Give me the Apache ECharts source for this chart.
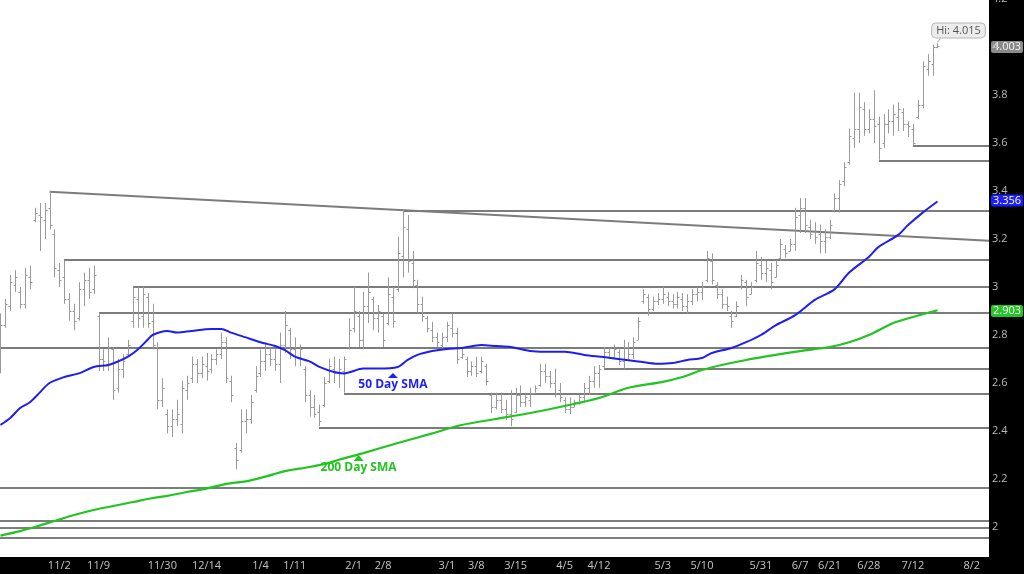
<!DOCTYPE html>
<html><head><meta charset="utf-8">
<script src="https://cdn.jsdelivr.net/npm/echarts@6/dist/echarts.min.js"></script>
<style>html,body{margin:0;padding:0;background:#fff}#c{width:1024px;height:574px}</style>
</head><body><div id="c"></div>
<script>
// ---- data ----
const opens = [
2.66,2.84,2.92,3.01,2.98,2.93,3.04,3.28,3.30,3.28,
3.33,3.22,3.07,3.04,2.95,2.90,2.87,2.99,3.03,2.99,
2.88,2.70,2.68,2.74,2.58,2.66,2.72,2.86,2.95,2.88,
2.96,2.86,2.75,2.53,2.47,2.42,2.45,2.43,2.57,2.62,
2.68,2.64,2.67,2.66,2.70,2.72,2.77,2.61,2.33,2.32,
2.44,2.45,2.57,2.64,2.69,2.72,2.70,2.68,2.76,2.82,
2.74,2.71,2.66,2.55,2.50,2.48,2.51,2.61,2.66,2.64,
2.65,2.75,2.83,2.88,2.78,2.92,2.95,2.87,2.88,2.85,
2.96,2.99,3.13,3.24,3.10,3.01,2.93,2.87,2.82,2.79,
2.76,2.79,2.83,2.81,2.71,2.70,2.65,2.67,2.65,2.67,
2.55,2.50,2.53,2.49,2.47,2.48,2.55,2.52,2.53,2.56,
2.59,2.65,2.63,2.60,2.57,2.53,2.49,2.50,2.52,2.54,
2.58,2.61,2.64,2.67,2.73,2.71,2.73,2.69,2.75,2.72,
2.78,2.94,2.96,2.91,2.94,2.95,2.96,2.94,2.93,2.95,
2.92,2.94,2.97,2.98,3.03,3.11,3.01,2.97,2.93,2.88,
2.88,3.00,3.02,2.97,3.03,3.09,3.06,3.07,3.04,3.12,
3.16,3.15,3.18,3.30,3.33,3.25,3.23,3.22,3.19,3.21,
3.32,3.37,3.44,3.52,3.62,3.66,3.74,3.66,3.70,3.68,
3.60,3.68,3.69,3.71,3.73,3.68,3.66,3.71,3.76,3.91,
3.93,4.00];
const highs = [
2.89,2.95,3.05,3.07,3.00,3.08,3.09,3.33,3.35,3.35,
3.40,3.24,3.10,3.11,2.975,2.93,3.02,3.06,3.08,3.09,
2.89,2.74,2.79,2.75,2.70,2.72,2.78,3.00,3.00,3.00,
2.975,2.93,2.77,2.62,2.49,2.49,2.53,2.61,2.63,2.71,
2.70,2.71,2.725,2.72,2.74,2.81,2.79,2.63,2.35,2.49,
2.49,2.55,2.67,2.74,2.77,2.75,2.74,2.81,2.90,2.83,
2.79,2.76,2.67,2.57,2.55,2.51,2.625,2.70,2.71,2.70,
2.71,2.87,3.00,2.90,2.98,3.06,2.96,2.925,2.89,3.04,
3.00,3.21,3.32,3.30,3.15,3.03,2.96,2.88,2.855,2.81,
2.81,2.855,2.89,2.83,2.75,2.71,2.69,2.71,2.71,2.68,
2.56,2.56,2.56,2.53,2.57,2.58,2.59,2.56,2.58,2.59,
2.68,2.68,2.65,2.66,2.60,2.54,2.54,2.53,2.55,2.60,
2.63,2.67,2.675,2.75,2.75,2.76,2.74,2.78,2.77,2.79,
2.875,2.99,2.97,2.96,2.975,3.00,2.98,2.97,2.98,2.975,
2.97,2.99,3.00,3.02,3.15,3.14,3.02,2.99,2.96,2.90,
2.94,3.05,3.03,3.02,3.15,3.125,3.11,3.10,3.11,3.20,
3.175,3.20,3.33,3.37,3.37,3.28,3.27,3.26,3.24,3.28,
3.39,3.445,3.52,3.66,3.81,3.81,3.77,3.74,3.82,3.71,
3.72,3.74,3.76,3.77,3.745,3.69,3.68,3.78,3.94,3.97,
4.01,4.015];
const lows = [
2.64,2.83,2.90,2.98,2.91,2.91,2.99,3.27,3.15,3.20,
3.24,3.04,3.00,2.93,2.86,2.82,2.86,2.92,2.95,2.97,
2.65,2.65,2.65,2.53,2.56,2.62,2.71,2.83,2.83,2.83,
2.83,2.74,2.49,2.50,2.39,2.375,2.42,2.39,2.53,2.60,
2.60,2.62,2.61,2.64,2.675,2.70,2.60,2.52,2.24,2.31,
2.39,2.43,2.56,2.625,2.65,2.67,2.65,2.60,2.725,2.70,
2.67,2.67,2.52,2.46,2.455,2.42,2.50,2.60,2.60,2.58,
2.56,2.74,2.81,2.75,2.74,2.85,2.82,2.81,2.75,2.84,
2.83,2.98,3.04,3.06,2.995,2.89,2.855,2.81,2.77,2.75,
2.74,2.77,2.79,2.68,2.70,2.625,2.63,2.625,2.64,2.59,
2.475,2.49,2.475,2.445,2.42,2.475,2.50,2.50,2.50,2.56,
2.585,2.60,2.58,2.54,2.52,2.475,2.47,2.50,2.51,2.52,
2.55,2.58,2.58,2.66,2.70,2.70,2.675,2.66,2.70,2.70,
2.78,2.93,2.88,2.90,2.925,2.93,2.92,2.91,2.91,2.90,
2.89,2.925,2.94,2.945,3.02,3.01,2.95,2.91,2.90,2.83,
2.875,2.99,2.92,2.97,3.02,3.03,3.02,2.99,3.04,3.11,
3.12,3.15,3.15,3.225,3.225,3.20,3.18,3.14,3.14,3.20,
3.31,3.31,3.42,3.51,3.58,3.60,3.63,3.64,3.60,3.53,
3.58,3.64,3.63,3.65,3.65,3.625,3.59,3.70,3.745,3.88,
3.88,3.995];
const closes = [
2.84,2.93,3.02,3.04,2.93,3.05,3.02,3.31,3.29,3.32,
3.26,3.08,3.03,2.95,2.90,2.86,2.99,3.03,2.98,3.05,
2.70,2.69,2.75,2.57,2.66,2.69,2.76,2.96,2.87,2.97,
2.85,2.76,2.53,2.58,2.42,2.45,2.47,2.58,2.60,2.68,
2.64,2.68,2.65,2.70,2.72,2.77,2.62,2.55,2.28,2.44,
2.45,2.52,2.63,2.69,2.72,2.70,2.68,2.76,2.84,2.74,
2.71,2.74,2.55,2.50,2.47,2.44,2.60,2.67,2.64,2.66,
2.70,2.82,2.90,2.78,2.92,2.98,2.87,2.90,2.78,2.97,
2.86,3.14,3.25,3.11,3.03,2.93,2.88,2.83,2.79,2.77,
2.79,2.84,2.81,2.70,2.72,2.65,2.67,2.64,2.69,2.61,
2.50,2.53,2.49,2.47,2.45,2.55,2.52,2.54,2.56,2.58,
2.65,2.63,2.60,2.56,2.54,2.49,2.50,2.52,2.54,2.58,
2.61,2.64,2.66,2.73,2.71,2.74,2.69,2.75,2.72,2.77,
2.86,2.97,2.91,2.94,2.95,2.97,2.94,2.93,2.96,2.92,
2.94,2.97,2.98,3.00,3.12,3.03,2.97,2.93,2.92,2.86,
2.92,3.03,2.96,3.00,3.10,3.06,3.08,3.02,3.09,3.18,
3.14,3.18,3.29,3.33,3.26,3.22,3.21,3.19,3.21,3.26,
3.37,3.43,3.50,3.63,3.66,3.75,3.66,3.70,3.67,3.58,
3.68,3.69,3.72,3.74,3.68,3.67,3.60,3.76,3.92,3.94,
4.00,4.003];

// moving averages, [bar index, value]
const sma50 = [[0,2.425],[2,2.454],[4,2.496],[6,2.52],[8,2.56],[10,2.60],[13,2.625],[16,2.64],[19,2.667],[22,2.675],
[24,2.69],[26,2.71],[28,2.74],[30,2.78],[31,2.80],[34,2.817],[36,2.81],[39,2.817],[43,2.825],[45,2.825],
[47,2.81],[50,2.79],[53,2.77],[56,2.754],[58,2.737],[60,2.71],[63,2.69],[65,2.667],[68,2.646],[70,2.64],
[74,2.66],[77,2.66],[81,2.667],[83,2.696],[85,2.717],[88,2.733],[91,2.742],[94,2.746],[98,2.758],[101,2.754],
[104,2.75],[108,2.733],[111,2.73],[115,2.73],[119,2.717],[123,2.708],[126,2.70],[130,2.69],[134,2.68],[137,2.683],
[140,2.696],[143,2.704],[145,2.725],[149,2.746],[152,2.77],[155,2.80],[158,2.84],[162,2.883],[166,2.946],[170,2.99],
[173,3.06],[177,3.125],[179,3.167],[183,3.217],[185,3.258],[188,3.31],[191,3.356]];
const sma200 = [[0,1.964],[4,1.983],[7,2.0],[11,2.025],[15,2.05],[19,2.071],[23,2.0875],[27,2.104],[31,2.121],[34,2.13],
[38,2.146],[42,2.16],[46,2.18],[50,2.19],[54,2.21],[58,2.233],[63,2.25],[67,2.267],[69,2.28],[74,2.308],
[81,2.35],[88,2.39],[94,2.425],[101,2.45],[108,2.475],[115,2.504],[122,2.5375],[128,2.58],[135,2.605],[139,2.625],
[143,2.654],[147,2.675],[152,2.696],[158,2.717],[163,2.733],[169,2.75],[173,2.77],[177,2.80],[182,2.85],[186,2.875],
[191,2.903]];

// support / resistance levels: value and the bar they start from (-1 = whole width)
const levelValues    = [3.318, 3.114, 3.0, 2.89, 2.745, 2.658, 2.554, 2.414, 2.161, 2.026, 1.997, 1.953, 3.587, 3.523];
const levelStartBars = [82,    13,    27,  20,   -1,    123,   70,    65,    -1,    -1,    -1,    -1,    186,   179];
// downtrend line: start point and a second point on it
const trendStart = [10, 3.397];
const trendEnd   = [201, 3.1935];

// date ticks
const tickLabels = ['11/2','11/9','11/30','12/14','1/4','1/11','2/1','2/8','3/1','3/8','3/15','4/5','4/12','5/3','5/10','5/31','6/7','6/21','6/28','7/12','8/2'];
const tickBars   = [12,20,33,42,53,60,72,78,91,97,105,115,122,135,143,155,163,169,177,186,198];
const slotCount = 202;

const sma50Name = '50 Day SMA', sma200Name = '200 Day SMA';
const sma50Marker = [80, 2.631], sma200Marker = [73, 2.2875];
const hiValue = 4.015, lastBar = 191;

// ---- build ----
const cats = Array.from({length: slotCount}, () => '');
tickBars.forEach((b, k) => { cats[b] = tickLabels[k]; });
const ohlc = opens.map((o, i) => [i, o, highs[i], lows[i], closes[i]]);
const levels = levelValues.map((v, k) => [Math.max(levelStartBars[k], 0), v, levelStartBars[k] < 0 ? 1 : 0]);
const lastClose = closes[closes.length - 1];
const last50 = sma50[sma50.length - 1][1];
const last200 = sma200[sma200.length - 1][1];

const FONT = '"Open Sans", "Noto Sans", sans-serif';
const BLUE = '#1e1ef2', GREEN = '#22c422', LEVEL = '#7c7c7c', BAR = '#9a9a9a';

function valueBox(val, bg, fg) {
  return {
    silent: true, symbol: ['none', 'none'],
    lineStyle: {color: 'rgba(0,0,0,0)', width: 1},
    label: {show: true, position: 'end', distance: 2, formatter: val.toFixed(3),
      backgroundColor: bg, color: fg, padding: [1, 2, 0, 2], fontSize: 11, fontFamily: FONT, borderRadius: 2},
    data: [{yAxis: val}]
  };
}

const chart = echarts.init(document.getElementById('c'));
chart.setOption({
  animation: false,
  backgroundColor: '#ffffff',
  textStyle: {fontFamily: FONT},
  grid: {left: -2, right: 35, top: -1, bottom: -1, containLabel: false, outerBoundsMode: 'none'},
  graphic: {elements: [
    {type: 'rect', x: 989, y: 0, z: 1, silent: true, shape: {x: 0, y: 0, width: 35, height: 574}, style: {fill: '#000000'}},
    {type: 'rect', x: 0, y: 557, z: 1, silent: true, shape: {x: 0, y: 0, width: 1024, height: 17}, style: {fill: '#000000'}}
  ]},
  xAxis: {
    type: 'category', data: cats, boundaryGap: true, z: 10,
    axisLine: {show: false}, axisTick: {show: false}, splitLine: {show: false},
    axisLabel: {inside: true, interval: 0, margin: 9, verticalAlign: 'middle', color: '#c4c4c4', fontSize: 11, fontFamily: FONT}
  },
  yAxis: {
    type: 'value', position: 'right', min: 1.8, max: 4.2, interval: 0.2, z: 10,
    axisLine: {show: false}, axisTick: {show: false}, splitLine: {show: false},
    axisLabel: {margin: 3, color: '#b8b8b8', fontSize: 11, fontFamily: FONT,
      formatter: v => (v < 1.9 ? '' : String(+v.toFixed(1)))}
  },
  series: [
    {
      type: 'custom', name: 'levels', silent: true, data: levels, encode: {x: 0, y: 1},
      renderItem: (params, api) => {
        const cs = params.coordSys;
        const p = api.coord([api.value(0), api.value(1)]);
        const x1 = api.value(2) ? cs.x : Math.round(p[0]);
        const y = Math.round(p[1]);
        return {type: 'line', shape: {x1: x1, y1: y, x2: cs.x + cs.width, y2: y}, style: {stroke: LEVEL, lineWidth: 2}};
      }
    },
    {
      type: 'custom', name: 'trend', silent: true, data: [[trendStart[0], trendStart[1], trendEnd[0], trendEnd[1]]],
      encode: {x: [0, 2], y: [1, 3]},
      renderItem: (params, api) => {
        const cs = params.coordSys;
        const a = api.coord([api.value(0), api.value(1)]);
        const b = api.coord([api.value(2), api.value(3)]);
        const xr = cs.x + cs.width;
        const yr = a[1] + (b[1] - a[1]) * (xr - a[0]) / (b[0] - a[0]);
        return {type: 'line', shape: {x1: a[0], y1: a[1], x2: xr, y2: yr}, style: {stroke: LEVEL, lineWidth: 2}};
      }
    },
    {
      type: 'custom', name: 'price', silent: true, data: ohlc, encode: {x: 0, y: [1, 2, 3, 4]},
      renderItem: (params, api) => {
        const i = api.value(0);
        const h = api.coord([i, api.value(2)]);
        const l = api.coord([i, api.value(3)]);
        const o = api.coord([i, api.value(1)]);
        const c = api.coord([i, api.value(4)]);
        const x = Math.round(h[0]) + 0.5;
        const st = {stroke: BAR, lineWidth: 1};
        const kids = [
          {type: 'line', shape: {x1: x, y1: h[1], x2: x, y2: l[1]}, style: st},
          {type: 'line', shape: {x1: x - 2, y1: Math.round(o[1]) + 0.5, x2: x, y2: Math.round(o[1]) + 0.5}, style: st},
          {type: 'line', shape: {x1: x, y1: Math.round(c[1]) + 0.5, x2: x + 2, y2: Math.round(c[1]) + 0.5}, style: st}
        ];
        if (i === lastBar) {
          // small pointer from the "Hi" bubble down to the bar top
          kids.push({type: 'line', shape: {x1: x + 3, y1: h[1] - 5, x2: x, y2: h[1] - 1}, style: {stroke: '#a0a0a0', lineWidth: 1}});
        }
        return {type: 'group', children: kids};
      },
      markPoint: {
        silent: true, symbol: 'rect', symbolSize: 0.1, itemStyle: {color: 'rgba(0,0,0,0)'},
        label: {show: true, position: 'inside', offset: [21, -13], formatter: 'Hi: ' + hiValue.toFixed(3),
          backgroundColor: '#ececec', borderColor: '#b5b5b5', borderWidth: 1, borderRadius: 4,
          padding: [2, 4, 1, 4], color: '#555', fontSize: 11, fontFamily: FONT},
        data: [{coord: [lastBar, hiValue]}]
      },
      markLine: valueBox(lastClose, '#8a8a8a', '#f2f2f2')
    },
    {
      type: 'line', name: sma200Name, data: sma200, showSymbol: false, smooth: 0.3, silent: true,
      lineStyle: {color: GREEN, width: 2.2}, itemStyle: {color: GREEN},
      markPoint: {
        silent: true, symbol: 'triangle', symbolSize: [10, 6], itemStyle: {color: GREEN},
        label: {show: true, position: 'bottom', distance: 1, formatter: sma200Name, color: GREEN, fontWeight: 'bold', fontSize: 12, fontFamily: FONT},
        data: [{coord: sma200Marker}]
      },
      markLine: valueBox(last200, '#26c526', '#ffffff')
    },
    {
      type: 'line', name: sma50Name, data: sma50, showSymbol: false, smooth: 0.3, silent: true,
      lineStyle: {color: BLUE, width: 2}, itemStyle: {color: BLUE},
      markPoint: {
        silent: true, symbol: 'triangle', symbolSize: [10, 5], itemStyle: {color: BLUE},
        label: {show: true, position: 'bottom', distance: 1, formatter: sma50Name, color: BLUE, fontWeight: 'bold', fontSize: 12, fontFamily: FONT},
        data: [{coord: sma50Marker}]
      },
      markLine: valueBox(last50, '#1e1ef6', '#ffffff')
    }
  ]
});
</script></body></html>
